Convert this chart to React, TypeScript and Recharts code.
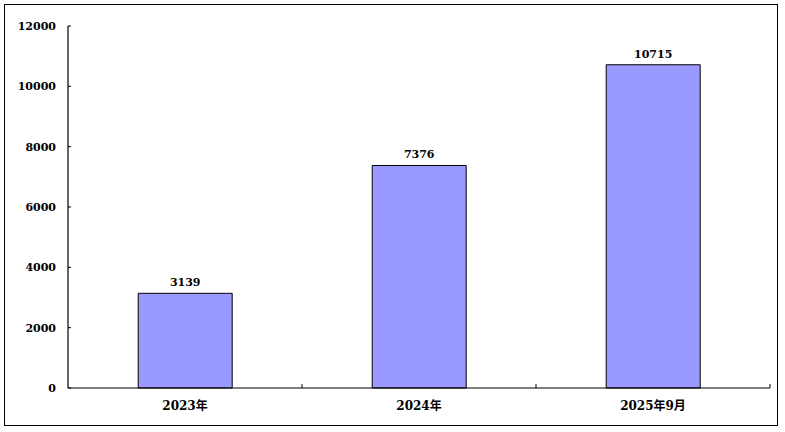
import { BarChart, Bar, XAxis, YAxis, LabelList } from "recharts";

const categories = ["2023年", "2024年", "2025年9月"];
const values = [3139, 7376, 10715];
const yTicks = [0, 2000, 4000, 6000, 8000, 10000, 12000];

const data = categories.map((name, i) => ({ name, value: values[i] }));

const FONT = "'DejaVu Serif', 'Noto Sans CJK SC', serif";
const BAND = 702 / categories.length;

const YTick = (props: any) => {
  const { x, y, payload } = props;
  return (
    <g>
      <line x1={x + 12} y1={y} x2={x + 15} y2={y} stroke="#000" strokeWidth={1} />
      <text x={x} y={y} dy={4} textAnchor="end" fontSize={11} fontWeight="bold" fill="#000" fontFamily={FONT}>
        {payload.value}
      </text>
    </g>
  );
};

const XTick = (props: any) => {
  const { x, y, payload } = props;
  const edge = x + BAND / 2;
  return (
    <g>
      <line x1={edge} y1={388} x2={edge} y2={384} stroke="#000" strokeWidth={1} />
      <text x={x} y={y} dy={14} textAnchor="middle" fontSize={12} fontWeight="bold" fill="#000" fontFamily={FONT}>
        {payload.value}
      </text>
    </g>
  );
};

export default function App() {
  return (
    <div style={{ position: "absolute", left: 0, top: 0, width: 785, height: 432, background: "#fff" }}>
      <div
        style={{
          position: "absolute",
          left: 4,
          top: 4,
          width: 772,
          height: 420,
          border: "1.5px solid #000",
        }}
      />
      <div style={{ position: "absolute", left: 0, top: 0 }}>
        <BarChart
          width={785}
          height={432}
          data={data}
          margin={{ top: 26, right: 15, bottom: 14, left: 8 }}
          barCategoryGap="30%"
        >
          <XAxis
            dataKey="name"
            tickLine={false}
            tickSize={0}
            tickMargin={8}
            height={30}
            axisLine={{ stroke: "#000", strokeWidth: 1.2 }}
            tick={<XTick />}
            interval={0}
          />
          <YAxis
            width={60}
            domain={[0, 12000]}
            ticks={yTicks}
            tickLine={false}
            tickSize={0}
            tickMargin={12}
            axisLine={{ stroke: "#000", strokeWidth: 1.2 }}
            tick={<YTick />}
            interval={0}
          />
          <Bar dataKey="value" fill="#9999FF" stroke="#000" strokeWidth={1} isAnimationActive={false}>
            <LabelList
              dataKey="value"
              position="top"
              offset={7}
              fontSize={11}
              fontWeight="bold"
              fill="#000"
              fontFamily={FONT}
            />
          </Bar>
        </BarChart>
      </div>
    </div>
  );
}
